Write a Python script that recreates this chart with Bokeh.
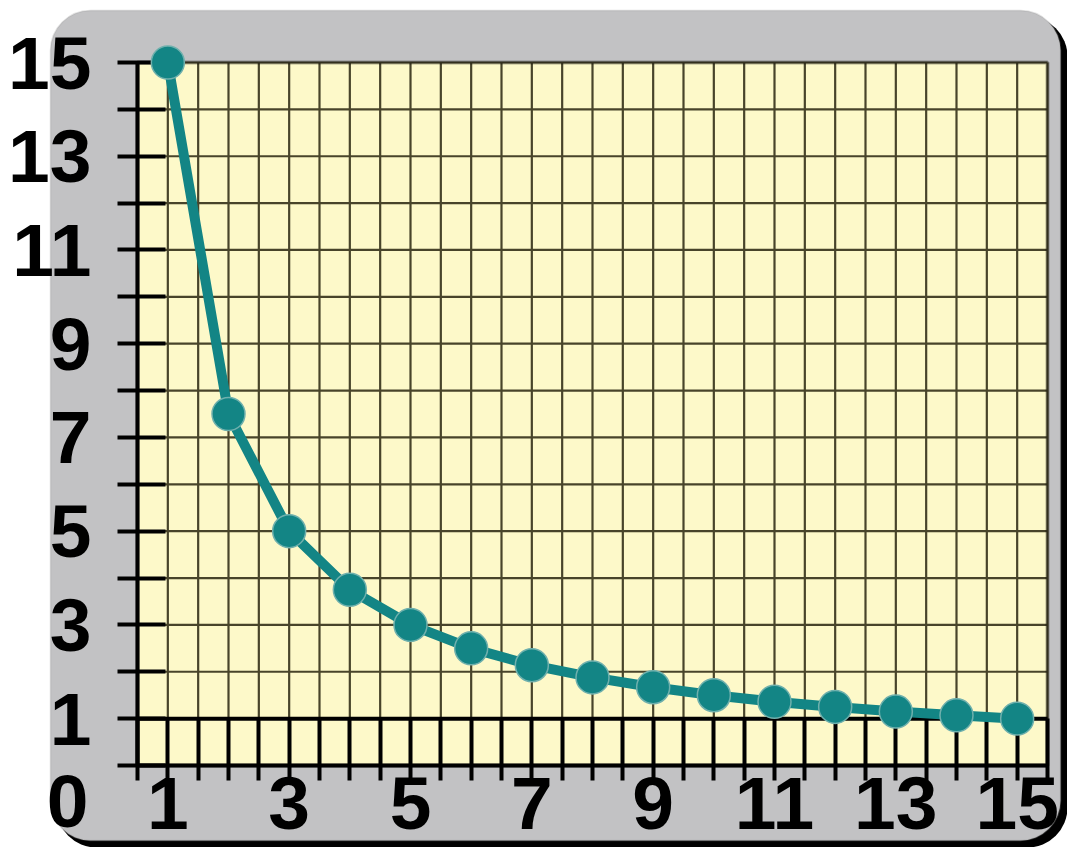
from bokeh.plotting import figure
from bokeh.models import BoxAnnotation, Label, FixedTicker, Range1d
from bokeh.embed import file_html
from bokeh.resources import INLINE

# ---- data ----
x_vals = [1, 2, 3, 4, 5, 6, 7, 8, 9, 10, 11, 12, 13, 14, 15]
y_vals = [15.0, 7.5, 5.0, 3.75, 3.0, 2.5, 2.14, 1.88, 1.67, 1.5, 1.36, 1.25, 1.15, 1.07, 1.0]
x_ticks = [0.5, 1, 1.5, 2, 2.5, 3, 3.5, 4, 4.5, 5, 5.5, 6, 6.5, 7, 7.5, 8,
           8.5, 9, 9.5, 10, 10.5, 11, 11.5, 12, 12.5, 13, 13.5, 14, 14.5, 15, 15.5]
x_tick_labels = {1: "1", 3: "3", 5: "5", 7: "7", 9: "9", 11: "11", 13: "13", 15: "15"}
y_ticks = [0, 1, 2, 3, 4, 5, 6, 7, 8, 9, 10, 11, 12, 13, 14, 15]
y_tick_labels = {1: "1", 3: "3", 5: "5", 7: "7", 9: "9", 11: "11", 13: "13", 15: "15"}
corner_label = "0"
base_value = 1

# ---- layout ----
W, H = 1067, 847
M_LEFT, M_RIGHT, M_TOP, M_BOTTOM = 137, 20, 62, 82
fw = W - M_LEFT - M_RIGHT
fh = H - M_TOP - M_BOTTOM
x0, x1 = x_ticks[0], x_ticks[-1]
y0, y1 = y_ticks[0], y_ticks[-1]
xs = fw / (x1 - x0)
ys = fh / (y1 - y0)

p = figure(width=W, height=H,
           x_range=Range1d(x0 - M_LEFT / xs, x1 + M_RIGHT / xs),
           y_range=Range1d(y0 - M_BOTTOM / ys, y1 + M_TOP / ys),
           output_backend="svg", toolbar_location=None, min_border=0)
p.xgrid.visible = False
p.ygrid.visible = False
p.background_fill_color = None
p.border_fill_color = "white"
p.outline_line_color = None

TEAL = "#138585"
GRID = "#48442a"
CREAM = "#fdf9c9"
PANEL = "#c2c2c4"
FONT = "Liberation Sans"
FSIZE = "75px"

cu = dict(left_units="canvas", right_units="canvas", top_units="canvas", bottom_units="canvas")
shadow = BoxAnnotation(left=56, right=1067, top=16, bottom=847, fill_color="black", fill_alpha=1,
                       line_color=None, border_radius=40, level="image", **cu)
panel = BoxAnnotation(left=50, right=1060, top=10, bottom=840, fill_color=PANEL, fill_alpha=1,
                      line_color="#9a9a9a", line_width=1.5, border_radius=40, level="image", **cu)
cream = BoxAnnotation(left=x0, right=x1, bottom=y0, top=y1, fill_color=CREAM, fill_alpha=1,
                      line_color=None, level="image")
p.add_layout(shadow)
p.add_layout(panel)
p.add_layout(cream)

# grid lines
nx, ny = len(x_ticks), len(y_ticks)
p.segment(x0=x_ticks, y0=[y0] * nx, x1=x_ticks, y1=[y1] * nx, line_color=GRID, line_width=2.2)
p.segment(x0=[x0] * ny, y0=y_ticks, x1=[x1] * ny, y1=y_ticks, line_color=GRID, line_width=2.2)
# heavy line at y = 1
p.segment(x0=[x0], y0=[base_value], x1=[x1], y1=[base_value], line_color="black", line_width=4)

outline = BoxAnnotation(left=x0, right=x1, bottom=y0, top=y1, fill_color=None,
                        line_color="black", line_width=4, level="guide")
p.add_layout(outline)

# axes
xa = p.xaxis[0]
ya = p.yaxis[0]
xa.fixed_location = y0
ya.fixed_location = x0
xa.bounds = (x0, x1)
ya.bounds = (y0, y1)
xa.ticker = FixedTicker(ticks=x_ticks)
ya.ticker = FixedTicker(ticks=y_ticks)
xa.major_label_overrides = {t: x_tick_labels.get(t, "") for t in x_ticks}
ya.major_label_overrides = {t: y_tick_labels.get(t, "") for t in y_ticks}
for ax in (xa, ya):
    ax.axis_line_color = "black"
    ax.axis_line_width = 4
    ax.major_tick_line_color = "black"
    ax.major_tick_line_width = 4
    ax.minor_tick_line_color = None
    ax.major_label_text_font = FONT
    ax.major_label_text_font_style = "bold"
    ax.major_label_text_font_size = FSIZE
    ax.major_label_text_color = "black"
xa.major_tick_out = 15
xa.major_tick_in = int(round(ys * (base_value - y0)))
xa.major_label_standoff = -4
ya.major_tick_out = 20
ya.major_tick_in = 28
ya.major_label_standoff = 26

p.add_layout(Label(x=x0, y=y0, text=corner_label, x_offset=-49, y_offset=-35,
                   text_align="right", text_baseline="middle", text_font=FONT,
                   text_font_style="bold", text_font_size=FSIZE, text_color="black"))

# series
p.line(x_vals, y_vals, line_color=TEAL, line_width=10, level="annotation")
p.scatter(x_vals, y_vals, size=33, fill_color=TEAL, line_color="#6fb0ad", line_width=1.5,
          level="annotation")

open("out.html", "w").write(file_html(p, INLINE))
